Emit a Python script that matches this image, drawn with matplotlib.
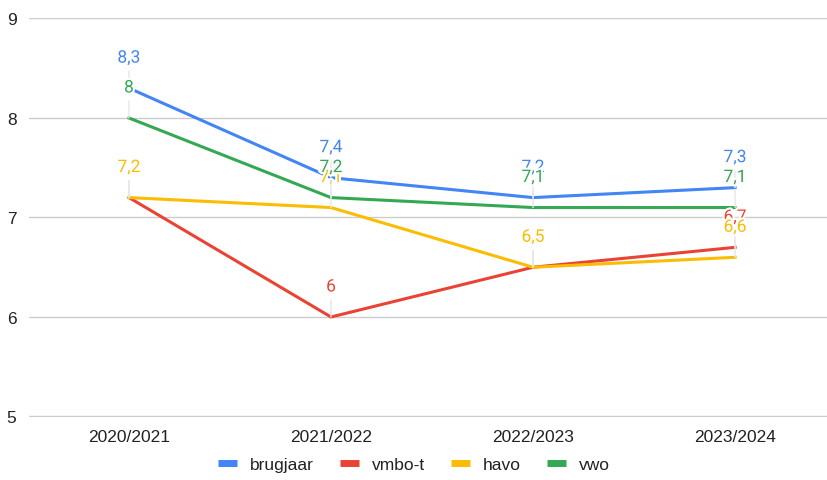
import matplotlib.pyplot as plt
import matplotlib.patheffects as pe

# data
jaren = ["2020/2021", "2021/2022", "2022/2023", "2023/2024"]
brugjaar = [8.3, 7.4, 7.2, 7.3]
vmbo_t = [7.2, 6.0, 6.5, 6.7]
havo = [7.2, 7.1, 6.5, 6.6]
vwo = [8.0, 7.2, 7.1, 7.1]

reeksen = [("brugjaar", brugjaar, "#4285F4"),
           ("vmbo-t", vmbo_t, "#EA4335"),
           ("havo", havo, "#FBBC04"),
           ("vwo", vwo, "#34A853")]

plt.rcParams['font.family'] = ['Roboto', 'DejaVu Sans']

fig = plt.figure(figsize=(8.28, 4.81), dpi=100)
ax = fig.add_axes([0.035, 0.131, 0.965, 0.8295])

x = list(range(len(jaren)))
for naam, waarden, kleur in reeksen:
    ax.plot(x, waarden, color=kleur, lw=2.2, label=naam, zorder=3)

# data labels met hulplijntjes
for naam, waarden, kleur in reeksen:
    for xi, v in zip(x, waarden):
        tekst = ("%g" % v).replace(".", ",")
        ax.annotate(tekst, xy=(xi, v), xytext=(0, 30), textcoords='offset pixels',
                    ha='center', va='center', fontsize=12.5, color=kleur,
                    path_effects=[pe.withStroke(linewidth=3, foreground='white')],
                    arrowprops=dict(arrowstyle='-', color='#e6e6e6', lw=1,
                                    shrinkA=2, shrinkB=0),
                    zorder=5)

ax.set_xlim(-0.495, 3.46)
ax.set_ylim(4.995, 9.005)
ax.set_yticks([5, 6, 7, 8, 9])
ax.set_xticks(x)
ax.set_xticklabels(jaren)
ax.grid(axis='y', color='#cccccc', lw=1)
ax.set_axisbelow(True)
for s in ax.spines.values():
    s.set_visible(False)
ax.tick_params(axis='both', length=0, labelsize=12.5, labelcolor='#222222')
ax.tick_params(axis='y', pad=9)
ax.tick_params(axis='x', pad=9)
for t in ax.get_yticklabels() + ax.get_xticklabels():
    t.set_family(['Liberation Sans', 'DejaVu Sans'])

leg = fig.legend(loc='lower center', bbox_to_anchor=(0.5, -0.015), ncol=4,
                 frameon=False, fontsize=12.5, handlelength=1.1, columnspacing=1.5,
                 handletextpad=0.75)
for h in leg.get_lines():
    h.set_linewidth(5)
    h.set_solid_capstyle('butt')
for t in leg.get_texts():
    t.set_color('#222222')
    t.set_family(['Liberation Sans', 'DejaVu Sans'])

plt.savefig("out.png", dpi=100)
